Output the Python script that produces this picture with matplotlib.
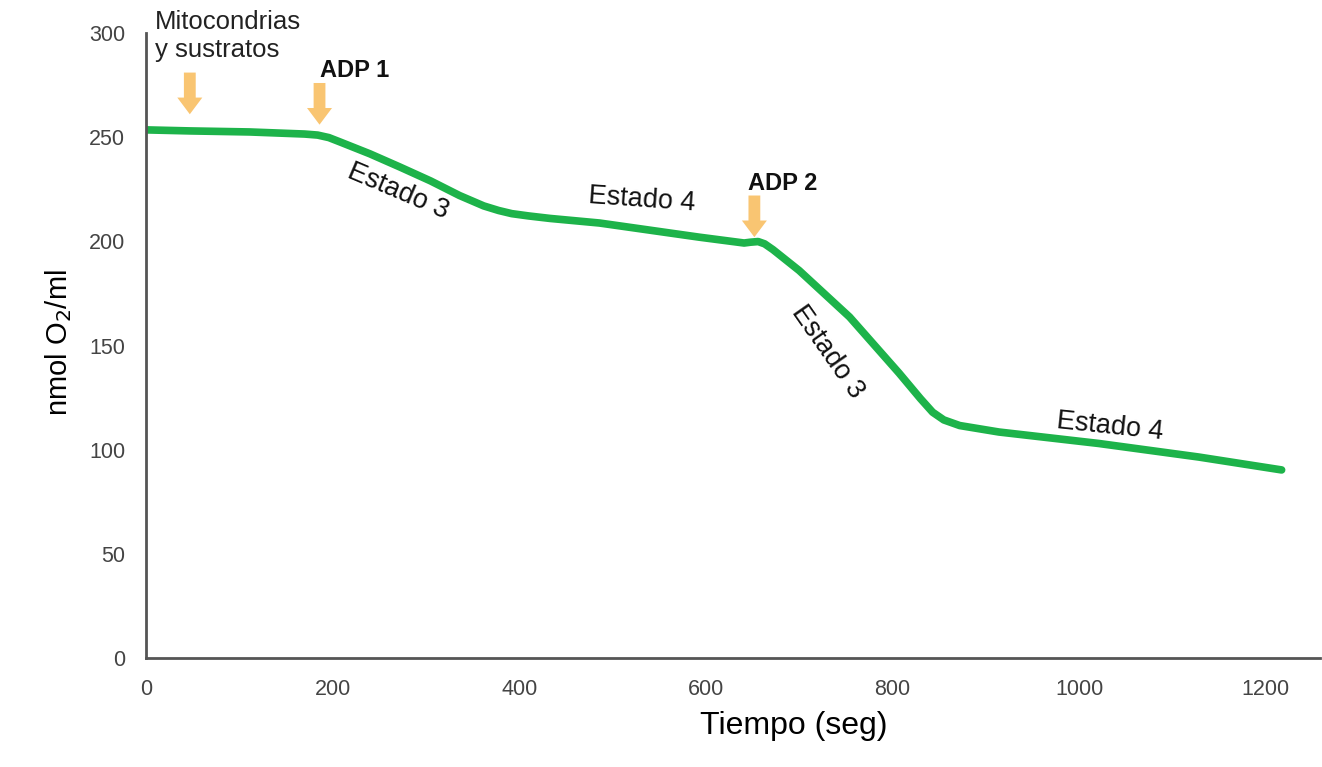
import numpy as np
import matplotlib.pyplot as plt

plt.rcParams['font.family'] = ['Liberation Sans', 'DejaVu Sans']

# trace of oxygen consumption
tiempo = [0, 47, 111, 170, 184, 196, 208, 240, 272, 305, 336, 362, 378, 392, 410,
          433, 486, 593, 641, 648, 656, 663, 672, 700, 754, 807, 830, 843, 855,
          872, 914, 1021, 1128, 1217]
oxigeno = [253.5, 253, 252.5, 251.5, 251, 249.8, 247.7, 242, 235.7, 229, 222, 217,
           214.8, 213.3, 212.2, 211, 208.8, 202, 199.2, 199.6, 199.9, 198.8, 196,
           186, 163.7, 136.8, 124.5, 118, 114.3, 111.6, 108.5, 103, 96.5, 90.3]

# additions: (x, tail y, tip y)
flechas_x = [47, 186, 652]
flechas_top = [281, 276, 222]
flechas_tip = [261, 256, 202]

estados = ['Estado 3', 'Estado 4', 'Estado 3', 'Estado 4']
estados_x = [270, 531, 730, 1033]
estados_y = [224, 220, 147, 111]
estados_rot = [-23, -4, -55, -6]

xticks = [0, 200, 400, 600, 800, 1000, 1200]
yticks = [0, 50, 100, 150, 200, 250, 300]

verde = '#1db34a'
naranja = '#f9c572'
gris = '#555555'

fig = plt.figure(figsize=(13.22, 7.67), dpi=100)
ax = fig.add_axes([0.1104, 0.142, 0.888, 0.815])

ax.plot(tiempo, oxigeno, color=verde, lw=5.5, solid_capstyle='round', solid_joinstyle='round')

for x, y0, y1 in zip(flechas_x, flechas_top, flechas_tip):
    ax.annotate('', xy=(x, y1), xytext=(x, y0),
                arrowprops=dict(arrowstyle='simple,head_width=1.8,head_length=1.2,tail_width=0.85',
                                color=naranja, lw=0, shrinkA=0, shrinkB=0))

for s, x, y, r in zip(estados, estados_x, estados_y, estados_rot):
    ax.text(x, y, s, fontsize=19.5, rotation=r, rotation_mode='anchor',
            ha='center', va='center', color='#111111')

ax.text(10, 298.5, 'Mitocondrias\ny sustratos', fontsize=18.5, ha='left', va='center',
        linespacing=1.2, color='#222222')
ax.text(187, 282, 'ADP 1', fontsize=17, fontweight='bold', ha='left', va='center', color='#111111')
ax.text(645, 228, 'ADP 2', fontsize=17, fontweight='bold', ha='left', va='center', color='#111111')

ax.set_xlim(0, 1258)
ax.set_ylim(0, 300)
ax.set_xticks(xticks)
ax.set_yticks(yticks)
ax.tick_params(length=0, labelsize=15.5, labelcolor='#444444')
ax.tick_params(axis='x', pad=15)
ax.tick_params(axis='y', pad=15)
for side in ['top', 'right']:
    ax.spines[side].set_visible(False)
for side in ['left', 'bottom']:
    ax.spines[side].set_color(gris)
    ax.spines[side].set_linewidth(2)

ax.set_xlabel('Tiempo (seg)', fontsize=23)
ax.xaxis.set_label_coords(0.552, -0.085)
ax.set_ylabel('nmol O$_2$/ml', fontsize=21)
ax.yaxis.set_label_coords(-0.061, 0.504)

fig.savefig('out.png', dpi=100)
